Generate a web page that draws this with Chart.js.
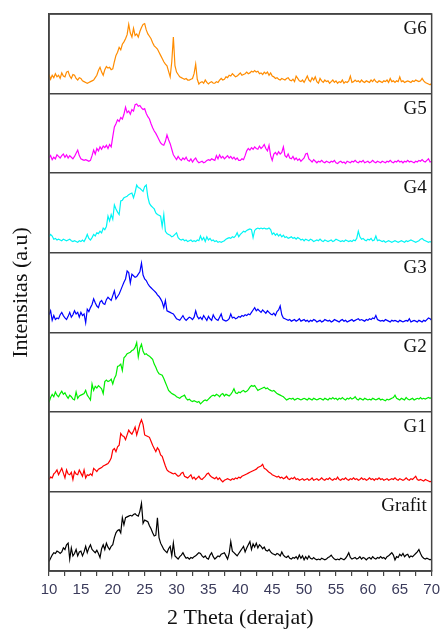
<!DOCTYPE html>
<html>
<head>
<meta charset="utf-8">
<script src="https://cdn.jsdelivr.net/npm/chart.js@4.4.1/dist/chart.umd.min.js"></script>
<style>
  html, body { margin: 0; padding: 0; background: #fff; }
  canvas { display: block; }
</style>
</head>
<body>
<canvas id="xrd" width="445" height="630"></canvas>
<script>
// sampling grid of the patterns (2 theta, degrees)
const START_ANGLE = 10;
const STEP_ANGLE = 0.25;
const X_MIN = 10, X_MAX = 70;

// relative intensities (0 = panel floor, 100 = panel top)
const grafit = [
  12,16,20,23, 22,25,24,22, 24,29,27,33, 35,15,29,19, 22,27,19,24,
  25,19,24,31, 23,29,33,27, 25,23,26,22, 17,28,33,27, 35,30,27,31,
  33,42,48,51, 52,48,67,58, 67,68,69,70, 69,71,72,70, 69,75,85,60,
  64,63,62,57, 53,48,44,45, 67,42,35,31, 27,25,23,28, 31,19,35,19,
  17,15,18,20, 23,19,16,17, 15,17,16,18, 19,21,23,22, 19,17,19,16,
  15,20,23,18, 15,17,19,18, 21,22,23,19, 15,22,37,25, 23,21,19,22,
  25,28,31,24, 29,33,37,27, 34,30,35,29, 33,31,28,30, 26,25,27,24,
  22,21,20,22, 21,19,24,20, 18,17,19,16, 15,17,16,18, 15,20,16,19,
  14,18,15,19, 16,15,17,15, 14,15,14,16, 15,14,15,17, 18,20,17,15,
  14,15,14,16, 15,14,16,19, 23,17,15,16, 17,15,16,18, 15,17,16,14,
  16,17,15,18, 16,15,17,16, 18,16,17,15, 18,19,21,23, 20,14,18,17,
  21,19,22,18, 20,21,17,19, 18,20,22,24, 27,22,18,16, 15,16,15,14,
  15
];
const g1 = [
  15,18,17,22, 24,27,21,25, 29,23,17,27, 22,21,24,15, 25,22,21,27,
  23,19,27,17, 21,20,22,20, 29,27,25,28, 29,30,32,33, 34,35,38,42,
  52,54,50,56, 58,73,70,69, 65,71,77,74, 72,76,81,71, 78,85,90,84,
  71,70,69,68, 63,58,54,50, 55,52,46,44, 38,32,27,25, 24,23,22,23,
  21,19,20,23, 24,19,18,17, 19,21,16,18, 15,17,19,16, 15,17,19,22,
  23,20,18,17, 16,18,15,17, 14,12,14,15, 16,15,14,16, 15,17,16,18,
  17,19,20,21, 22,23,24,25, 26,27,28,30, 31,32,34,29, 28,26,24,23,
  21,20,19,18, 19,17,18,16, 17,19,16,15, 17,16,18,15, 16,14,15,16,
  14,15,16,14, 15,17,14,15, 16,14,15,17, 15,14,16,15, 17,15,14,16,
  15,18,15,14, 16,15,17,15, 14,16,15,17, 15,16,14,15, 17,15,16,14,
  15,17,15,16, 14,16,15,17, 15,16,14,15, 16,14,15,16, 15,17,15,14,
  16,15,14,15, 17,15,14,16, 15,17,19,15, 14,15,14,13, 15,14,13,12,
  13
];
const g2 = [
  12,18,22,19, 25,21,19,23, 26,22,24,20, 17,21,19,16, 15,25,17,20,
  21,22,23,27, 21,18,15,35, 27,32,30,33, 31,29,23,38, 40,38,39,41,
  35,42,46,57, 58,60,52,68, 70,73,74,75, 77,78,81,87, 69,80,85,76,
  72,73,71,70, 68,66,60,56, 51,48,47,46, 42,37,32,27, 25,23,22,21,
  19,18,17,19, 20,21,17,15, 16,14,13,14, 13,12,13,10, 12,14,15,14,
  16,18,20,21, 20,22,21,19, 22,23,20,22, 21,20,22,25, 29,24,23,25,
  24,26,27,25, 26,28,31,33, 32,33,30,27, 28,29,30,31, 29,30,28,27,
  26,27,25,23, 22,21,20,19, 17,15,16,17, 16,17,15,16, 17,16,15,16,
  17,16,15,17, 16,15,17,16, 15,16,17,16, 15,17,16,15, 17,16,18,16,
  17,15,17,16, 18,16,15,17, 16,18,16,17, 19,16,15,17, 16,15,17,16,
  15,16,15,17, 16,15,16,17, 15,16,15,14, 16,15,16,17, 18,21,17,16,
  15,17,16,15, 18,16,15,16, 17,15,16,17, 16,18,16,17, 16,17,18,17,
  18
];
const g3 = [
  22,27,15,21, 16,18,17,22, 25,21,18,16, 20,25,19,22, 27,23,25,19,
  25,21,23,12, 29,26,31,35, 42,37,33,31, 38,40,36,35, 41,44,42,40,
  46,52,42,45, 48,53,58,63, 67,77,75,62, 73,71,69,70, 73,76,87,72,
  67,65,61,58, 56,54,52,50, 47,45,42,38, 31,40,27,26, 25,24,23,20,
  17,16,15,18, 21,17,15,17, 19,18,16,19, 27,20,17,19, 16,21,18,15,
  20,17,15,22, 18,16,15,19, 23,16,15,14, 15,17,23,18, 19,17,18,20,
  19,21,20,22, 21,23,22,25, 28,31,27,29, 27,25,28,26, 24,27,25,23,
  22,24,21,26, 28,33,22,18, 17,16,15,16, 14,15,16,14, 15,17,14,15,
  16,14,15,13, 15,14,16,15, 13,14,15,13, 14,16,15,14, 15,13,14,16,
  15,14,13,15, 16,14,15,13, 14,15,16,14, 15,16,17,15, 16,15,14,16,
  15,17,16,18, 17,21,16,15, 14,15,14,16, 15,14,13,15, 14,15,14,13,
  15,14,13,14, 15,14,17,13, 14,15,14,13, 15,14,13,15, 14,16,18,17,
  15
];
const g4 = [
  20,23,21,17, 18,16,17,16, 15,17,16,15, 16,17,15,14, 15,14,13,15,
  14,16,14,18, 23,18,16,19, 23,21,25,24, 27,25,31,29, 33,46,40,48,
  42,60,55,51, 48,65,66,69, 70,71,73,74, 75,69,76,85, 82,81,79,77,
  83,85,70,62, 59,57,55,50, 48,47,46,33, 48,27,24,23, 22,20,21,23,
  25,19,17,16, 17,15,16,14, 15,16,14,15, 14,16,15,21, 16,19,14,20,
  16,18,15,16, 14,15,13,14, 13,14,15,17, 18,19,18,20, 19,21,25,20,
  23,25,27,26, 28,29,30,29, 19,28,30,31, 30,31,30,31, 30,30,31,29,
  23,25,22,24, 21,23,20,22, 19,20,18,19, 20,18,19,17, 19,18,16,17,
  15,17,16,15, 17,16,14,15, 16,15,17,15, 14,16,15,14, 15,16,14,15,
  17,16,15,14, 15,14,16,15, 14,15,14,16, 15,18,27,20, 17,18,16,15,
  17,16,18,15, 16,21,15,16, 15,14,15,13, 14,15,14,13, 14,15,14,13,
  14,15,14,13, 15,14,15,16, 15,14,13,14, 15,17,18,16, 15,14,13,14,
  13
];
const g5 = [
  19,22,17,20, 18,23,21,19, 22,24,20,23, 19,22,20,18, 21,25,29,22,
  18,17,16,17, 16,15,16,22, 29,24,31,28, 33,30,34,32, 35,31,36,33,
  46,58,62,67, 65,70,68,74, 83,76,78,74, 80,78,86,87, 84,85,82,80,
  81,75,71,68, 62,57,53,50, 46,42,38,36, 35,40,48,42, 37,30,23,20,
  17,21,18,16, 19,17,20,16, 15,18,14,17, 19,15,13,14, 15,13,14,16,
  17,16,18,17, 16,22,18,23, 19,21,18,20, 22,19,21,18, 20,17,19,16,
  16,18,17,22, 28,31,29,32, 30,33,31,30, 34,31,33,36, 31,28,35,22,
  16,24,26,23, 27,24,26,33, 22,20,24,19, 18,21,17,19, 16,18,15,17,
  19,24,25,18, 16,14,17,15, 13,15,14,16, 14,13,15,14, 13,15,14,16,
  13,12,14,15, 13,14,12,15, 14,13,15,14, 16,14,13,15, 14,16,13,14,
  15,13,14,16, 14,13,15,14, 13,15,14,13, 15,14,16,14, 13,15,14,16,
  14,15,13,15, 14,16,14,15, 14,13,15,14, 16,15,17,15, 14,16,18,14,
  15
];
const g6 = [
  24,18,23,20, 25,21,23,19, 26,22,21,27, 28,22,19,24, 23,19,17,20,
  19,16,15,14, 13,14,15,16, 17,20,23,29, 33,27,23,30, 34,32,33,30,
  31,40,48,52, 58,55,62,65, 69,74,87,76, 71,82,73,75, 71,78,83,87,
  88,80,75,72, 69,64,60,58, 56,52,48,44, 40,37,35,28, 21,40,71,35,
  27,24,21,20, 19,18,19,17, 17,18,19,25, 37,18,12,14, 15,13,17,14,
  12,14,15,13, 13,15,14,17, 19,17,18,21, 20,23,22,25, 23,21,22,24,
  26,23,24,25, 27,25,26,28, 27,29,27,28, 25,26,24,27, 25,27,23,26,
  22,21,19,20, 18,17,19,18, 17,19,20,17, 16,18,15,22, 19,16,15,17,
  14,18,22,17, 15,20,17,21, 15,13,19,16, 14,17,15,16, 13,15,17,14,
  16,13,15,14, 17,13,15,14, 16,22,14,15, 17,15,16,14, 17,15,14,16,
  15,14,17,15, 18,15,14,16, 15,14,16,15, 17,14,19,15, 16,14,16,15,
  21,15,16,14, 15,16,15,14, 16,15,17,16, 15,16,19,16, 14,13,12,11,
  13
];

// bottom panel first
const SERIES = [grafit, g1, g2, g3, g4, g5, g6];
const SERIES_NAMES = ['Grafit', 'G1', 'G2', 'G3', 'G4', 'G5', 'G6'];
const SERIES_COLORS = ['#000000', '#ff0000', '#00ee00', '#0000ff', '#00f5f5', '#ff00ff', '#ff8c00'];
const PANEL = 100;

const FRAME = '#444444';
const SERIF = '"Liberation Serif", "Times New Roman", serif';

const panelFrame = {
    id: 'panelFrame',
    afterDraw(chart) {
        const { ctx, chartArea: a, scales } = chart;
        ctx.save();
        ctx.strokeStyle = FRAME;
        ctx.lineWidth = 1.5;
        ctx.strokeRect(a.left, a.top, a.right - a.left, a.bottom - a.top);

        // panel names, top right of each strip
        ctx.fillStyle = '#111';
        ctx.font = '19px ' + SERIF;
        ctx.textAlign = 'right';
        ctx.textBaseline = 'alphabetic';
        SERIES_NAMES.forEach((name, k) => {
            const top = scales.y.getPixelForValue((k + 1) * PANEL);
            ctx.fillText(name, a.right - 5, top + 20);
        });
        ctx.restore();
    }
};

const ctx = document.getElementById('xrd').getContext('2d');
new Chart(ctx, {
    type: 'line',
    data: {
        datasets: SERIES.map((vals, k) => ({
            label: SERIES_NAMES[k],
            data: vals.map((v, i) => ({ x: START_ANGLE + i * STEP_ANGLE, y: v + k * PANEL })),
            borderColor: SERIES_COLORS[k],
            borderWidth: 1.2,
            pointRadius: 0,
            tension: 0,
            fill: false
        }))
    },
    options: {
        responsive: false,
        animation: false,
        layout: { padding: { top: 14, right: 9, bottom: 0, left: 0 } },
        plugins: {
            legend: { display: false },
            tooltip: { enabled: false }
        },
        scales: {
            x: {
                type: 'linear',
                min: X_MIN,
                max: X_MAX,
                ticks: {
                    stepSize: 2.5,
                    autoSkip: false,
                    maxRotation: 0,
                    padding: 5,
                    color: '#3b3b5b',
                    font: { family: '"Liberation Sans", Arial, sans-serif', size: 15 },
                    callback: (v) => (v % 5 === 0 ? v : '')
                },
                grid: { drawOnChartArea: false, drawTicks: true, tickLength: 5, color: FRAME, lineWidth: 1.2 },
                border: { color: FRAME, width: 1.5 },
                title: {
                    display: true,
                    text: '2 Theta (derajat)',
                    color: '#111',
                    font: { family: SERIF, size: 22, lineHeight: 1 },
                    padding: { top: 0, bottom: 1 }
                },
                afterFit: (s) => { s.height = 59; }
            },
            y: {
                min: 0,
                max: 7 * PANEL,
                ticks: { display: false, stepSize: PANEL },
                grid: { color: FRAME, lineWidth: 1.5, drawTicks: false },
                border: { color: FRAME, width: 1.5 },
                title: {
                    display: true,
                    text: 'Intensitas (a.u)',
                    color: '#111',
                    font: { family: SERIF, size: 22, lineHeight: 1 },
                    padding: { top: 10, bottom: 0 }
                },
                afterFit: (s) => { s.width = 49; }
            }
        }
    },
    plugins: [panelFrame]
});
</script>
</body>
</html>
